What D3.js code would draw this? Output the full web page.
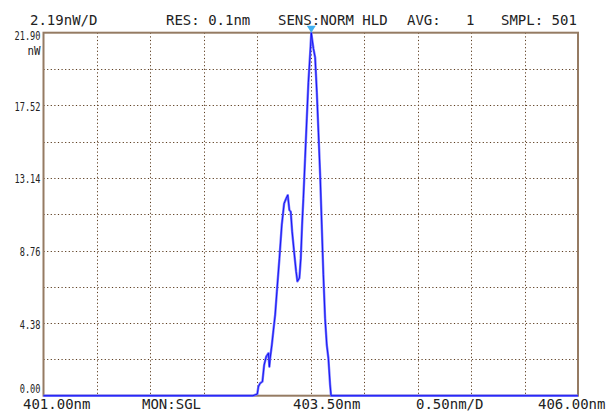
<!DOCTYPE html>
<html>
<head>
<meta charset="utf-8">
<script src="https://cdn.jsdelivr.net/npm/d3@7"></script>
<style>
  html, body { margin: 0; padding: 0; background: #fff; }
  svg { display: block; }
  text { font-family: "DejaVu Sans Mono", "Liberation Mono", monospace; fill: #222; }
</style>
</head>
<body>
<svg id="the-chart"></svg>
<script>
// Trace: wavelength (nm) and power (nW)
const wavelength = [401.00, 402.96, 403.00, 403.01, 403.026, 403.048, 403.064, 403.083, 403.104, 403.113,
    403.120, 403.136, 403.151, 403.167, 403.183, 403.207, 403.229, 403.251, 403.270, 403.285,
    403.300, 403.313, 403.326, 403.344, 403.363, 403.375, 403.394, 403.407, 403.419, 403.431,
    403.447, 403.463, 403.478, 403.494, 403.505, 403.515, 403.525, 403.541, 403.557, 403.572,
    403.588, 403.603, 403.618, 403.634, 403.650, 403.665, 403.681, 403.690, 406.00];
const power = [0, 0, 0.1, 0.54, 0.75, 0.85, 1.85, 2.35, 2.56, 1.75,
    2.26, 3.06, 3.96, 4.87, 6.27, 8.29, 10.3, 11.6, 11.9, 12.1,
    11.2, 11.1, 9.9, 8.7, 7.5, 6.9, 7.1, 8.3, 10.3, 11.9,
    14.3, 16.7, 18.9, 20.6, 21.9, 21.4, 20.95, 20.4, 18.3, 15.9,
    13.3, 10.3, 7.3, 4.67, 3.06, 2.26, 0.65, 0, 0];

const yTicks = [0, 4.38, 8.76, 13.14, 17.52, 21.90];
const yTickLabels = ["0.00", "4.38", "8.76", "13.14", "17.52", "21.90"];
const xDomain = [401.00, 406.00];
const yDomain = [0, 21.90];
const peakWavelength = 403.505;

const headerTexts = [
    {text: "2.19nW/D", x: 30},
    {text: "RES: 0.1nm", x: 166},
    {text: "SENS:NORM HLD", x: 278},
    {text: "AVG:", x: 407},
    {text: "1", x: 466},
    {text: "SMPL: 501", x: 501}
];
const footerTexts = [
    {text: "401.00nm", x: 23},
    {text: "MON:SGL", x: 142},
    {text: "403.50nm", x: 293},
    {text: "0.50nm/D", x: 416},
    {text: "406.00nm", x: 538}
];

const width = 610;
const height = 417;
const plotLeft = 43.5, plotRight = 578, plotTop = 32.7, plotBottom = 395.7;

const x = d3.scaleLinear().domain(xDomain).range([plotLeft, plotRight]);
const y = d3.scaleLinear().domain(yDomain).range([plotBottom, plotTop]);

const svg = d3.select("#the-chart")
    .attr("width", width)
    .attr("height", height)
    .attr("viewBox", [0, 0, width, height]);

// dotted grid, 10 x 10 divisions
const grid = svg.append("g")
    .attr("stroke", "#5c3d20")
    .attr("stroke-width", 1)
    .attr("stroke-dasharray", "1.2,2.4");

grid.selectAll(".vg")
    .data(d3.range(1, 10).map(i => xDomain[0] + i * 0.5))
    .join("line")
        .attr("x1", d => Math.round(x(d)) + 0.5)
        .attr("x2", d => Math.round(x(d)) + 0.5)
        .attr("y1", plotTop)
        .attr("y2", plotBottom);

grid.selectAll(".hg")
    .data(d3.range(1, 10).map(i => i * 2.19))
    .join("line")
        .attr("y1", d => Math.round(y(d)) + 0.5)
        .attr("y2", d => Math.round(y(d)) + 0.5)
        .attr("x1", plotLeft)
        .attr("x2", plotRight);

// frame
svg.append("rect")
    .attr("x", plotLeft)
    .attr("y", plotTop)
    .attr("width", plotRight - plotLeft)
    .attr("height", plotBottom - plotTop)
    .attr("fill", "none")
    .attr("stroke", "#957b63")
    .attr("stroke-width", 2);

// trace
const pts = wavelength.map((w, i) => [w, power[i]]);
const line = d3.line().x(d => x(d[0])).y(d => y(d[1]));

svg.append("path")
    .datum(pts)
    .attr("fill", "none")
    .attr("stroke", "#7373ff")
    .attr("stroke-width", 2.4)
    .attr("stroke-linejoin", "round")
    .attr("d", line);

svg.append("path")
    .datum(pts)
    .attr("fill", "none")
    .attr("stroke", "#0000f0")
    .attr("stroke-width", 0.8)
    .attr("d", line);

// peak marker
const px = x(peakWavelength);
svg.append("path")
    .attr("d", `M${px - 4.5},${plotTop - 7}L${px + 4.5},${plotTop - 7}L${px},${plotTop}Z`)
    .attr("fill", "#3fb0f0");

// y labels
svg.append("g")
    .selectAll("text")
    .data(yTicks)
    .join("text")
        .attr("x", 40.5)
        .attr("y", (d, i) => i === 0 ? 393 : (i === yTicks.length - 1 ? 40 : y(d) + 5.5))
        .attr("text-anchor", "end")
        .attr("font-size", 12.5)
        .attr("textLength", (d, i) => yTickLabels[i].length * 5.2)
        .attr("lengthAdjust", "spacingAndGlyphs")
        .text((d, i) => yTickLabels[i]);

svg.append("text")
    .attr("x", 40.5)
    .attr("y", 55)
    .attr("text-anchor", "end")
    .attr("font-size", 12.5)
    .attr("textLength", 13)
    .attr("lengthAdjust", "spacingAndGlyphs")
    .text("nW");

// header and footer
svg.append("g")
    .selectAll("text")
    .data(headerTexts)
    .join("text")
        .attr("x", d => d.x)
        .attr("y", 25)
        .attr("font-size", 14)
        .text(d => d.text);

svg.append("g")
    .selectAll("text")
    .data(footerTexts)
    .join("text")
        .attr("x", d => d.x)
        .attr("y", 409)
        .attr("font-size", 14)
        .text(d => d.text);
</script>
</body>
</html>
